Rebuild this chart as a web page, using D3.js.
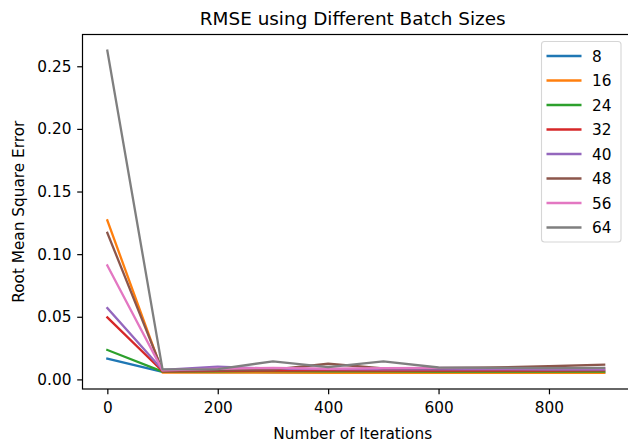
<!DOCTYPE html>
<html>
<head>
<meta charset="utf-8">
<script src="https://cdn.jsdelivr.net/npm/d3@7"></script>
<style>
  html, body { margin: 0; padding: 0; background: #fff; }
  svg { display: block; font-family: "DejaVu Sans", sans-serif; }
</style>
</head>
<body>
<svg id="chart" width="628" height="443"></svg>
<script>
// Training iterations at which RMSE was recorded
const iterations = [0, 100, 200, 300, 400, 500, 600, 700, 800, 900];

// Batch sizes (legend labels)
const batchSizes = ["8", "16", "24", "32", "40", "48", "56", "64"];

// RMSE per batch size at each recorded iteration
const rmse8  = [0.0165, 0.0060, 0.0058, 0.0057, 0.0056, 0.0056, 0.0055, 0.0055, 0.0055, 0.0055];
const rmse16 = [0.1270, 0.0055, 0.0054, 0.0054, 0.0053, 0.0053, 0.0053, 0.0052, 0.0052, 0.0052];
const rmse24 = [0.0235, 0.0062, 0.0064, 0.0066, 0.0065, 0.0064, 0.0063, 0.0063, 0.0062, 0.0062];
const rmse32 = [0.0495, 0.0065, 0.0068, 0.0070, 0.0072, 0.0070, 0.0070, 0.0070, 0.0071, 0.0072];
const rmse40 = [0.0570, 0.0075, 0.0102, 0.0085, 0.0082, 0.0080, 0.0080, 0.0080, 0.0079, 0.0078];
const rmse48 = [0.1170, 0.0070, 0.0072, 0.0078, 0.0125, 0.0088, 0.0090, 0.0095, 0.0105, 0.0117];
const rmse56 = [0.0910, 0.0072, 0.0085, 0.0092, 0.0085, 0.0090, 0.0092, 0.0090, 0.0090, 0.0090];
const rmse64 = [0.2625, 0.0080, 0.0082, 0.0144, 0.0098, 0.0144, 0.0095, 0.0092, 0.0090, 0.0092];

const seriesValues = [rmse8, rmse16, rmse24, rmse32, rmse40, rmse48, rmse56, rmse64];

// Axis tick values
const xTicks = [0, 200, 400, 600, 800];
const yTicks = [0.00, 0.05, 0.10, 0.15, 0.20, 0.25];

const colors = ["#1f77b4", "#ff7f0e", "#2ca02c", "#d62728",
                "#9467bd", "#8c564b", "#e377c2", "#7f7f7f"];

const svg = d3.select("#chart");
const plot = { left: 82.5, right: 629, top: 34.5, bottom: 389 };
const fontSize = 15.3;
const titleSize = 18.4;

// Data limits with 5% padding on each side
const xMin = d3.min(iterations), xMax = d3.max(iterations);
const xPad = (xMax - xMin) * 0.05;
const allVals = seriesValues.flat();
const yMin = d3.min(allVals), yMax = d3.max(allVals);
const yPad = (yMax - yMin) * 0.05;

const x = d3.scaleLinear().domain([xMin - xPad, xMax + xPad]).range([plot.left, plot.right]);
const y = d3.scaleLinear().domain([yMin - yPad, yMax + yPad]).range([plot.bottom, plot.top]);

// Series lines
const line = d3.line()
  .x((d, i) => x(iterations[i]))
  .y(d => y(d));

svg.append("g")
  .selectAll("path")
  .data(seriesValues)
  .join("path")
  .attr("d", d => line(d))
  .attr("fill", "none")
  .attr("stroke", (d, i) => colors[i])
  .attr("stroke-width", 2.3)
  .attr("stroke-linejoin", "round")
  .attr("stroke-linecap", "square");

// Axes
const tickLen = 5.3;
const xAxis = svg.append("g")
  .attr("transform", `translate(0,${plot.bottom})`)
  .call(d3.axisBottom(x).tickValues(xTicks).tickFormat(d3.format("d"))
    .tickSize(tickLen).tickPadding(7.5));
const yAxis = svg.append("g")
  .attr("transform", `translate(${plot.left},0)`)
  .call(d3.axisLeft(y).tickValues(yTicks).tickFormat(d3.format(".2f"))
    .tickSize(tickLen).tickPadding(5.8));

[xAxis, yAxis].forEach(g => {
  g.select(".domain").remove();
  g.selectAll(".tick line").attr("stroke", "#000").attr("stroke-width", 1.2);
  g.selectAll(".tick text")
    .attr("fill", "#000")
    .attr("font-size", fontSize)
    .attr("font-family", "DejaVu Sans");
});

// Frame (spines)
svg.append("rect")
  .attr("x", plot.left)
  .attr("y", plot.top)
  .attr("width", plot.right - plot.left)
  .attr("height", plot.bottom - plot.top)
  .attr("fill", "none")
  .attr("stroke", "#000")
  .attr("stroke-width", 1.2);

// Title and axis labels
svg.append("text")
  .attr("x", (plot.left + plot.right) / 2 - 3)
  .attr("y", 24.5)
  .attr("text-anchor", "middle")
  .attr("font-size", titleSize)
  .attr("fill", "#000")
  .text("RMSE using Different Batch Sizes");

svg.append("text")
  .attr("x", (plot.left + plot.right) / 2 - 3)
  .attr("y", 438.5)
  .attr("text-anchor", "middle")
  .attr("font-size", fontSize)
  .attr("fill", "#000")
  .text("Number of Iterations");

svg.append("text")
  .attr("transform", `translate(23.5,${(plot.top + plot.bottom) / 2}) rotate(-90)`)
  .attr("text-anchor", "middle")
  .attr("font-size", fontSize)
  .attr("fill", "#000")
  .text("Root Mean Square Error");

// Legend
const legend = svg.append("g");
const lg = { x: 541.5, y: 41.5, w: 79.5, h: 200.5, step: 24.5, first: 56 };
legend.append("rect")
  .attr("x", lg.x).attr("y", lg.y)
  .attr("width", lg.w).attr("height", lg.h)
  .attr("rx", 3)
  .attr("fill", "#fff").attr("fill-opacity", 0.8)
  .attr("stroke", "#d6d6d6").attr("stroke-width", 1.1);

const items = legend.selectAll("g.item")
  .data(batchSizes)
  .join("g")
  .attr("class", "item")
  .attr("transform", (d, i) => `translate(0,${lg.first + i * lg.step})`);

items.append("line")
  .attr("x1", 546.5).attr("x2", 581.5)
  .attr("stroke", (d, i) => colors[i])
  .attr("stroke-width", 2.3);

items.append("text")
  .attr("x", 592)
  .attr("y", 5.5)
  .attr("font-size", fontSize)
  .attr("fill", "#000")
  .text(d => d);
</script>
</body>
</html>
